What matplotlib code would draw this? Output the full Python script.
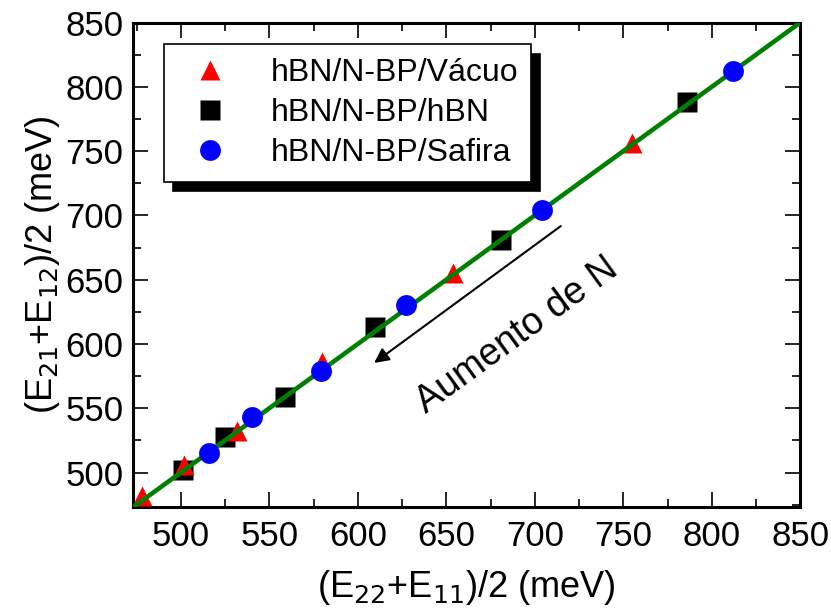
import matplotlib
matplotlib.use('Agg')
import matplotlib.pyplot as plt
from matplotlib.ticker import MultipleLocator

plt.rcParams['font.family'] = ['Liberation Sans', 'DejaVu Sans']

# (E22+E11)/2 and (E21+E12)/2 in meV
vac_x = [478, 502, 532, 580, 654, 755]
vac_y = [482, 506, 532, 586, 655, 756]
hbn_x = [501, 525, 559, 610, 681, 786]
hbn_y = [502, 528, 559, 613, 681, 788]
saf_x = [516, 540, 579, 627, 704, 812]
saf_y = [515, 543, 579, 630, 704, 812]
line_x = [473, 850]

fig, ax = plt.subplots(figsize=(8.31, 6.09), dpi=100)
fig.subplots_adjust(left=0.16, right=0.963, top=0.963, bottom=0.167)

# squares under triangles, line over both, circles on top
ax.plot(vac_x, vac_y, '^', color='red', ms=15, mec='none', zorder=3, label='hBN/N-BP/Vácuo')
ax.plot(hbn_x, hbn_y, 's', color='black', ms=14, mec='none', zorder=2, label='hBN/N-BP/hBN')
ax.plot(saf_x, saf_y, 'o', color='blue', ms=15, mec='none', zorder=5, label='hBN/N-BP/Safira')
ax.plot(line_x, line_x, color='green', lw=3.3, zorder=4)

ax.set_xlim(473, 850)
ax.set_ylim(473, 850)
ax.xaxis.set_major_locator(MultipleLocator(50))
ax.yaxis.set_major_locator(MultipleLocator(50))
ax.xaxis.set_minor_locator(MultipleLocator(25))
ax.yaxis.set_minor_locator(MultipleLocator(25))
ax.tick_params(which='both', direction='in', top=True, right=True, labelsize=25, width=1.2)
ax.tick_params(which='major', length=11)
ax.tick_params(which='minor', length=6)
ax.tick_params(axis='x', pad=9)
ax.tick_params(axis='y', pad=7)
for s in ax.spines.values():
    s.set_linewidth(2.2)

ax.set_xlabel('(E$_{22}$+E$_{11}$)/2 (meV)', fontsize=26, labelpad=11)
ax.set_ylabel('(E$_{21}$+E$_{12}$)/2 (meV)', fontsize=26, labelpad=2)

ax.annotate('', xy=(608, 584), xytext=(716, 693),
            arrowprops=dict(arrowstyle='-|>', color='black', lw=1.5, mutation_scale=22))
ax.text(690, 607, 'Aumento de N', fontsize=27, rotation=36,
        ha='center', va='center', rotation_mode='anchor')

leg = ax.legend(loc='upper left', bbox_to_anchor=(0.047, 0.955), fontsize=23,
                fancybox=False, edgecolor='black', framealpha=1,
                shadow={'color': 'black', 'alpha': 1, 'ox': 6, 'oy': -7},
                handletextpad=0.9, handlelength=2.0, borderpad=0.42,
                labelspacing=0.32, borderaxespad=0)
leg.get_frame().set_linewidth(1.2)
leg.set_zorder(10)

fig.savefig('out.png', dpi=100)
